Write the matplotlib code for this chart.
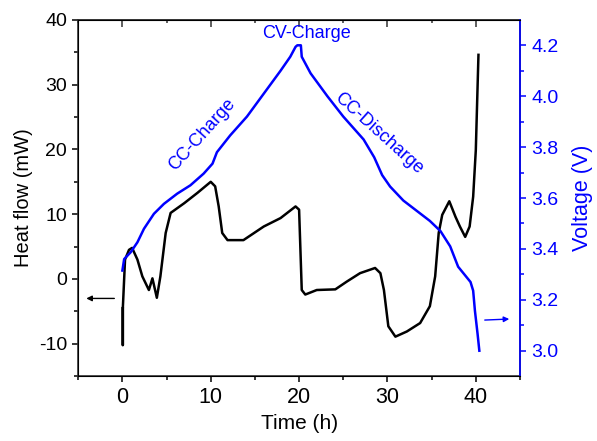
import matplotlib.pyplot as plt

plt.rcParams["font.family"] = ["Liberation Sans", "DejaVu Sans"]
plt.rcParams["axes.unicode_minus"] = False

# heat flow (mW) vs time (h)
hf_time = [0.05, 0.05, 0.05, 0.3, 0.75, 1.1, 1.7, 2.26, 3.0, 3.4, 3.9, 4.3, 4.9, 5.46,
           7.0, 8.5, 10.0, 10.5, 10.9, 11.3, 11.9, 13.7, 16.0, 17.9, 19.6, 20.0,
           20.3, 20.7, 22.0, 24.1, 25.4, 26.9, 28.6, 29.2, 29.6, 30.1, 30.9, 32.2,
           33.7, 34.8, 35.4, 35.8, 36.2, 37.0, 37.7, 38.2, 38.8, 39.3, 39.7, 40.0,
           40.3]
heat_flow = [-4.5, -10.2, -4.5, 3.0, 4.5, 4.8, 3.0, 0.4, -1.7, 0.1, -2.9, 0.4, 7.1, 10.2,
             11.7, 13.3, 15.0, 14.3, 11.2, 7.1, 6.0, 6.0, 8.1, 9.4, 11.2, 10.7,
             -1.7, -2.4, -1.7, -1.6, -0.4, 0.9, 1.7, 0.9, -1.7, -7.3, -8.9, -8.1,
             -6.8, -4.2, 0.4, 7.1, 9.9, 12.0, 9.6, 8.1, 6.5, 8.1, 12.7, 19.9,
             34.6]

# voltage (V) vs time (h)
v_time = [0.0, 0.2, 0.94, 1.7, 2.44, 3.57, 4.7, 6.2, 7.7, 9.2, 10.2, 10.7, 12.2,
          14.1, 16.0, 17.9, 19.0, 19.6, 19.8, 20.2, 20.3, 21.3, 23.2, 25.0, 27.3,
          28.5, 29.4, 30.3, 31.8, 33.3, 34.8, 36.0, 37.1, 38.0, 39.4, 39.7, 39.9,
          40.2, 40.4]
voltage = [3.315, 3.36, 3.387, 3.426, 3.479, 3.538, 3.577, 3.617, 3.65, 3.696, 3.735, 3.78, 3.846,
           3.92, 4.01, 4.10, 4.155, 4.194, 4.20, 4.20, 4.155, 4.09, 4.0, 3.92, 3.83,
           3.76, 3.69, 3.645, 3.59, 3.55, 3.51, 3.47, 3.41, 3.33, 3.27, 3.236, 3.157,
           3.066, 3.0]

blue = "#0000ff"

fig = plt.figure(figsize=(5.97, 4.41), dpi=100)
ax = fig.add_axes([0.131, 0.147, 0.740, 0.808])
ax.plot(hf_time, heat_flow, color="black", lw=1.8)
ax.set_xlim(-5, 45)
ax.set_ylim(-15, 40)
ax.set_xticks([0, 10, 20, 30, 40])
ax.set_xticks([-5, 5, 15, 25, 35, 45], minor=True)
ax.set_yticks([-10, 0, 10, 20, 30, 40])
ax.set_yticks([-15, -5, 5, 15, 25, 35], minor=True)
ax.tick_params(axis="both", which="both", direction="out", width=1.1)
ax.tick_params(axis="x", labelsize=15.5)
ax.tick_params(axis="y", labelsize=14)
ax.tick_params(which="major", length=4.5)
ax.tick_params(which="minor", length=3)

# top ticks point inward
sec = ax.secondary_xaxis("top")
sec.set_xticks([0, 10, 20, 30, 40], labels=[])
sec.set_xticks([-5, 5, 15, 25, 35], minor=True)
sec.tick_params(which="both", direction="in", width=1.1, colors="#333333")
sec.tick_params(which="major", length=5)
sec.tick_params(which="minor", length=2.5)
sec.spines["top"].set_color("#444444")
sec.spines["top"].set_linewidth(1.2)

ax.set_xlabel("Time (h)", fontsize=15)
ax.set_ylabel("Heat flow (mW)", fontsize=14.5)
for s in ax.spines.values():
    s.set_color("#333333")
    s.set_linewidth(1.2)
ax.annotate("", xy=(-4.4, -3), xytext=(-0.6, -3),
            arrowprops=dict(arrowstyle="-|>", color="black", lw=1, mutation_scale=8))

ax2 = ax.twinx()
ax2.plot(v_time, voltage, color=blue, lw=1.8)
ax2.set_ylim(2.9, 4.3)
ax2.set_yticks([3.0, 3.2, 3.4, 3.6, 3.8, 4.0, 4.2])
ax2.set_yticks([3.1, 3.3, 3.5, 3.7, 3.9, 4.1], minor=True)
ax2.tick_params(axis="y", which="both", colors=blue, labelsize=14, direction="out", width=1.1)
ax2.tick_params(which="major", length=4.5)
ax2.tick_params(which="minor", length=3)
ax2.spines["right"].set_color(blue)
ax2.spines["right"].set_linewidth(1.2)
ax2.set_ylabel("Voltage (V)", color=blue, fontsize=15.5, labelpad=10)
ax2.annotate("", xy=(44.1, 3.125), xytext=(40.7, 3.12),
             arrowprops=dict(arrowstyle="-|>", color=blue, lw=1, mutation_scale=8))

ax2.text(9.0, 3.85, "CC-Charge", color=blue, fontsize=13, rotation=48,
         ha="center", va="center")
ax2.text(20.8, 4.247, "CV-Charge", color=blue, fontsize=13, ha="center", va="center")
ax2.text(29.0, 3.855, "CC-Discharge", color=blue, fontsize=13, rotation=-42,
         ha="center", va="center")

fig.savefig("out.png", dpi=100)
